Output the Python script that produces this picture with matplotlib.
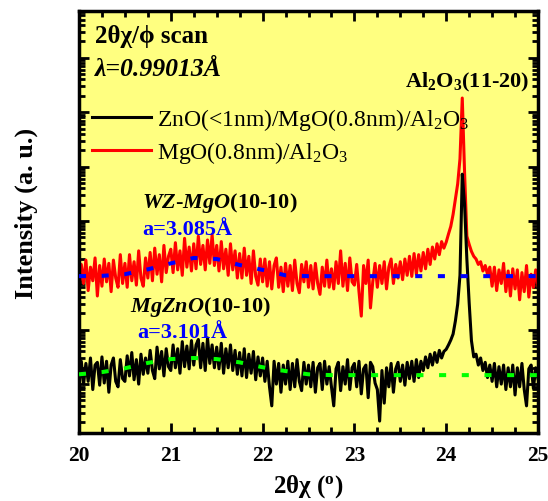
import numpy as np
import matplotlib
matplotlib.use("Agg")
import matplotlib.pyplot as plt
from matplotlib.ticker import LogLocator, MultipleLocator, NullFormatter

# ---------------- data (log10 intensity) ----------------
two_theta = np.linspace(20.0, 25.0, 201)          # 0.025 deg sampling grid

red_log = [
    1.75, 2.20, 1.85, 2.28, 1.72, 2.15, 1.90, 2.32, 1.62, 2.18,
    1.80, 2.30, 1.88, 2.22, 1.70, 2.28, 1.95, 1.78, 2.38, 1.85,
    2.22, 1.78, 2.38, 1.90, 2.25, 1.82, 2.45, 1.95, 1.80, 2.32,
    1.95, 2.42, 1.90, 2.50, 2.02, 2.38, 1.88, 2.55, 2.05, 2.35,
    2.48, 2.05, 2.60, 2.10, 2.45, 2.00, 2.68, 2.15, 2.52, 2.08,
    2.58, 2.12, 2.72, 2.20, 2.55, 2.10, 2.65, 2.22, 2.75, 2.18,
    2.55, 2.08, 2.62, 2.12, 2.48, 2.00, 2.58, 2.10, 2.45, 1.95,
    2.40, 1.95, 2.50, 2.00, 2.35, 1.85, 2.45, 1.98, 1.82, 2.30,
    1.88, 2.30, 1.80, 2.25, 1.75, 2.18, 2.32, 1.78, 2.15, 1.70,
    2.22, 1.80, 2.18, 1.72, 2.28, 1.85, 1.68, 2.20, 1.88, 2.25,
    1.78, 2.18, 1.75, 2.22, 1.85, 1.65, 2.15, 1.80, 2.28, 1.78,
    2.12, 1.75, 2.25, 1.85, 2.45, 1.80, 2.22, 1.72, 2.32, 1.88,
    1.82, 2.20, 1.70, 1.25, 2.18, 1.85, 2.28, 1.40, 1.88, 2.22,
    1.78, 2.18, 1.85, 2.25, 1.75, 2.15, 2.30, 1.85, 2.20, 1.95,
    2.25, 1.92, 2.30, 2.00, 2.35, 1.98, 2.40, 2.02, 2.38, 2.08,
    2.42, 2.12, 2.48, 2.20, 2.52, 2.30, 2.58, 2.38, 2.62, 2.50,
    2.61, 2.76, 2.90, 3.12, 3.40, 3.68, 4.14, 5.26, 3.90, 2.72,
    2.57, 2.44, 2.35, 2.30, 2.20, 2.25, 2.08, 2.18, 2.02, 2.15,
    1.80, 2.15, 1.72, 2.10, 1.85, 2.22, 1.70, 2.08, 1.62, 2.12,
    1.75, 2.10, 1.55, 2.05, 1.70, 2.18, 1.60, 2.02, 1.78, 2.10,
    1.80,
]

black_log = [
    -0.05, 0.42, 0.00, 0.38, 0.05, 0.48, -0.10, 0.35, 0.40, -0.02,
    0.50, 0.02, 0.42, -0.15, 0.35, 0.48, 0.05, -0.05, 0.45, 0.10,
    0.05, 0.52, 0.15, 0.58, 0.08, 0.45, 0.00, 0.55, 0.18, 0.48,
    0.20, 0.62, 0.25, 0.10, 0.68, 0.28, 0.60, 0.15, 0.65, 0.32,
    0.25, 0.72, 0.30, 0.65, 0.20, 0.78, 0.32, 0.70, 0.28, 0.80,
    0.35, 0.72, 0.82, 0.30, 0.75, 0.25, 0.85, 0.38, 0.72, 0.30,
    0.68, 0.28, 0.75, 0.20, 0.65, 0.30, 0.72, 0.25, 0.62, 0.18,
    0.58, 0.15, 0.65, 0.12, 0.55, 0.20, 0.60, 0.08, 0.50, 0.15,
    0.48, 0.05, 0.42, -0.05, -0.40, 0.42, 0.00, 0.38, -0.15, 0.35,
    0.00, 0.42, -0.10, 0.38, -0.05, 0.45, 0.05, -0.12, 0.40, 0.00,
    0.35, -0.05, 0.40, -0.15, 0.30, 0.38, -0.10, 0.42, 0.00, 0.32,
    -0.05, -0.40, 0.28, 0.40, -0.12, 0.32, 0.00, 0.45, -0.10, 0.30,
    0.38, -0.05, 0.42, -0.18, 0.28, 0.35, -0.25, 0.40, 0.32, 0.02,
    -0.10, -0.68, 0.25, -0.35, 0.30, -0.05, 0.38, -0.15, 0.28, 0.40,
    0.05, 0.35, -0.02, 0.40, 0.10, 0.42, 0.05, 0.45, 0.12, 0.42,
    0.25, 0.50, 0.30, 0.55, 0.35, 0.58, 0.40, 0.62, 0.48, 0.60,
    0.64, 0.72, 0.81, 0.92, 1.16, 1.47, 2.00, 3.86, 3.30, 2.30,
    1.50, 0.80, 0.50, 0.55, 0.35, 0.48, 0.25, 0.40, 0.12, 0.35,
    0.05, 0.38, -0.05, 0.32, 0.00, 0.35, -0.10, 0.30, -0.05, 0.35,
    -0.20, 0.30, -0.05, 0.38, -0.10, -0.40, 0.28, 0.35, -0.08, 0.30,
    0.10,
]

fit_x = [20.00, 20.25, 20.50, 20.75, 21.00, 21.25, 21.50, 21.75, 22.00, 22.25, 22.50,
         22.75, 23.00, 23.25, 23.50, 23.75, 24.00, 24.25, 24.50, 24.75, 25.00]
blue_fit_log = [1.985, 1.99, 2.02, 2.11, 2.22, 2.32, 2.30, 2.19, 2.10, 2.00, 1.985,
                1.985, 1.985, 1.985, 1.985, 1.985, 1.985, 1.985, 1.985, 1.985, 1.985]
green_fit_log = [0.18, 0.22, 0.29, 0.39, 0.46, 0.48, 0.46, 0.40, 0.31, 0.24, 0.18,
                 0.165, 0.165, 0.165, 0.165, 0.165, 0.165, 0.165, 0.165, 0.165, 0.165]

x_ticks = [20, 21, 22, 23, 24, 25]
labels = ["ZnO(<1nm)/MgO(0.8nm)/Al$_\\mathrm{2}$O$_\\mathrm{3}$",
          "MgO(0.8nm)/Al$_\\mathrm{2}$O$_\\mathrm{3}$"]

# ---------------- styling ----------------
plt.rcParams['font.family'] = ['Liberation Serif', 'DejaVu Serif']
plt.rcParams['mathtext.fontset'] = 'custom'
plt.rcParams['mathtext.rm'] = 'Liberation Serif'
plt.rcParams['mathtext.it'] = 'Liberation Serif:italic'
plt.rcParams['mathtext.bf'] = 'Liberation Serif:bold'
plt.rcParams['mathtext.bfit'] = 'Liberation Serif:italic:bold'

fig = plt.figure(figsize=(5.48, 5.02), dpi=100)
ax = fig.add_axes([79 / 548, (502 - 433.5) / 502, 459 / 548, 421.5 / 502])
ax.set_facecolor('#ffff80')

l_red, = ax.plot(two_theta, 10 ** np.array(red_log), color='#ff0000', lw=2.2,
                 label=labels[1], zorder=2)
l_blk, = ax.plot(two_theta, 10 ** np.array(black_log), color='black', lw=2.2,
                 label=labels[0], zorder=3)
ax.plot(fit_x, 10 ** np.array(blue_fit_log), color='#0000ff', lw=2.9,
        ls=(0, (1.75, 3.88)), dash_capstyle='butt', zorder=4)
ax.plot(fit_x, 10 ** np.array(green_fit_log), color='#00ff00', lw=2.9,
        ls=(0, (1.75, 3.88)), dash_capstyle='butt', zorder=4)

ax.set_yscale('log')
ax.set_xlim(20, 25)
ax.set_ylim(10 ** -0.89, 10 ** 6.86)
ax.set_xticks(x_ticks)
ax.xaxis.set_minor_locator(MultipleLocator(0.25))
ax.yaxis.set_major_locator(LogLocator(base=10, numticks=100))
ax.yaxis.set_minor_locator(LogLocator(base=10, subs=np.arange(2, 10), numticks=100))
ax.yaxis.set_major_formatter(NullFormatter())
ax.yaxis.set_minor_formatter(NullFormatter())

for s in ax.spines.values():
    s.set_linewidth(2.5)
ax.tick_params(which='both', direction='in', top=True, right=True, width=2)
ax.tick_params(which='major', length=7, pad=9)
ax.tick_params(which='minor', length=4)
for t in ax.get_xticklabels():
    t.set_fontsize(15.5)
    t.set_fontweight('bold')

ax.set_xlabel('2θχ ($^\\mathbf{o}$)', fontsize=18, fontweight='bold', labelpad=5)
ax.set_ylabel('Intensity (a. u.)', fontsize=19, fontweight='bold')
ax.yaxis.set_label_coords(-0.090, 0.521)

ax.legend(handles=[l_blk, l_red], loc='upper left', bbox_to_anchor=(0.028, 0.775),
          frameon=False, fontsize=17, handlelength=2.5, handletextpad=0.25,
          labelspacing=0.3, borderpad=0, borderaxespad=0)

T = ax.transAxes
ax.text(0.035, 0.926, '2θχ/ϕ scan', transform=T, fontsize=18, fontweight='bold',
        va='baseline', ha='left')
ax.text(0.035, 0.848, 'λ=0.99013Å', transform=T, fontsize=18.5, fontweight='bold',
        fontstyle='italic', va='baseline', ha='left')
ax.text(0.710, 0.820, 'Al$_\\mathbf{2}$O$_\\mathbf{3}$(11-20)', transform=T, fontsize=16,
        fontweight='bold', va='baseline', ha='left')
ax.text(0.137, 0.535, '$\\mathbfit{WZ}$-$\\mathbfit{MgO}$(10-10)', transform=T, fontsize=16,
        fontweight='bold', va='baseline', ha='left')
ax.text(0.137, 0.471, 'a=3.085Å', transform=T, fontsize=16, fontweight='bold',
        color='#0000ff', va='baseline', ha='left')
ax.text(0.111, 0.288, '$\\mathbfit{MgZnO}$(10-10)', transform=T, fontsize=16,
        fontweight='bold', va='baseline', ha='left')
ax.text(0.126, 0.227, 'a=3.101Å', transform=T, fontsize=16, fontweight='bold',
        color='#0000ff', va='baseline', ha='left')

fig.savefig('out.png', dpi=100)
